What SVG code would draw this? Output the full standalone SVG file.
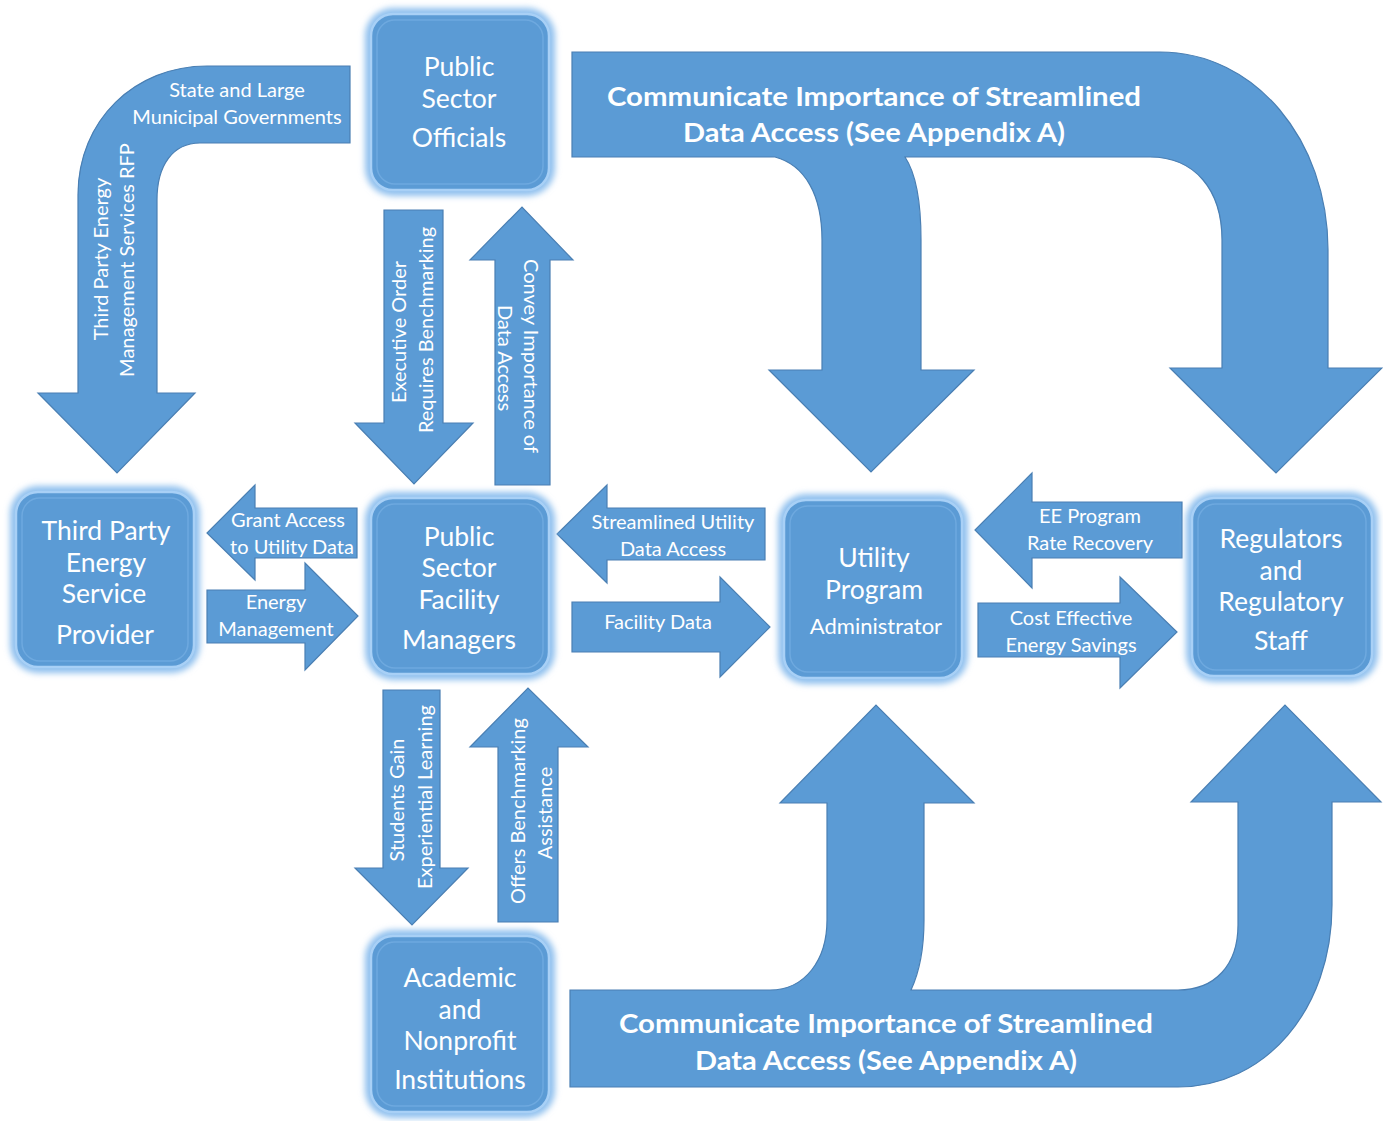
<svg xmlns="http://www.w3.org/2000/svg" width="1383" height="1121" viewBox="0 0 1383 1121">
<defs>
<style>
.arrow{fill:#5b9bd5;stroke:#4a7fb3;stroke-width:1.2;stroke-linejoin:miter}
.glow{fill:#8fc0ee}
.box{fill:#5b9bd5;stroke:#a8d0f6;stroke-width:2.5}
.rim{fill:none;stroke:#6ea9df;stroke-width:1.5}
.nt{font-family:Lato,"Liberation Sans",sans-serif;font-size:26.5px;fill:#ffffff;text-anchor:middle;dominant-baseline:central}
.lt{font-family:Lato,"Liberation Sans",sans-serif;font-size:20px;fill:#ffffff;text-anchor:middle;dominant-baseline:central}
.bt{font-family:Lato,"Liberation Sans",sans-serif;font-size:27px;font-weight:bold;fill:#ffffff;text-anchor:middle;dominant-baseline:central}
</style>
<filter id="blur" x="-10%" y="-10%" width="120%" height="120%"><feGaussianBlur stdDeviation="3"/></filter>
</defs>
<rect width="1383" height="1121" fill="#ffffff"/>
<g id="connectors">
<g id="c-top-left">
<path class="arrow" d="M350,66 L207,66 C135,66 78,120 78,195 L78,393 L38,393 L117,473 L195,393 L157,393 L157,200 C157,165 173,143 200,143 L350,143 Z"/>
<text class="lt" x="237" y="89">State and Large</text>
<text class="lt" x="237" y="116">Municipal Governments</text>
<text class="lt" transform="translate(100,259) rotate(-90)">Third Party Energy</text>
<text class="lt" transform="translate(126,260) rotate(-90)">Management Services RFP</text>
</g>
<g id="c-exec">
<path class="arrow" d="M384,210 L443,210 L443,423 L473,423 L414,484 L355,423 L384,423 Z"/>
<text class="lt" transform="translate(398,332) rotate(-90)">Executive Order</text>
<text class="lt" transform="translate(425,330) rotate(-90)">Requires Benchmarking</text>
</g>
<g id="c-convey">
<path class="arrow" d="M495,485 L550,485 L550,260 L573,260 L522,207 L470,260 L495,260 Z"/>
<text class="lt" transform="translate(532,356) rotate(90)">Convey Importance of</text>
<text class="lt" transform="translate(506,358) rotate(90)">Data Access</text>
</g>
<g id="c-grant">
<path class="arrow" d="M357,508 L357,558 L255,558 L255,580 L207,533 L255,485 L255,508 Z"/>
<text class="lt" x="288" y="519">Grant Access</text>
<text class="lt" x="292" y="546">to Utility Data</text>
</g>
<g id="c-energy">
<path class="arrow" d="M207,590 L305,590 L305,563 L358,616 L305,670 L305,643 L207,643 Z"/>
<text class="lt" x="276" y="601">Energy</text>
<text class="lt" x="276" y="628">Management</text>
</g>
<g id="c-streamlined">
<path class="arrow" d="M765,508 L765,560 L607,560 L607,583 L557,534 L607,485 L607,508 Z"/>
<text class="lt" x="673" y="521">Streamlined Utility</text>
<text class="lt" x="673" y="548">Data Access</text>
</g>
<g id="c-facility">
<path class="arrow" d="M572,602 L720,602 L720,577 L770,627 L720,677 L720,652 L572,652 Z"/>
<text class="lt" x="658" y="621">Facility Data</text>
</g>
<g id="c-ee">
<path class="arrow" d="M1182,502 L1182,558 L1032,558 L1032,588 L975,530 L1032,473 L1032,502 Z"/>
<text class="lt" x="1090" y="515">EE Program</text>
<text class="lt" x="1090" y="542">Rate Recovery</text>
</g>
<g id="c-cost">
<path class="arrow" d="M978,603 L1120,603 L1120,577 L1177,632 L1120,688 L1120,657 L978,657 Z"/>
<text class="lt" x="1071" y="617">Cost Effective</text>
<text class="lt" x="1071" y="644">Energy Savings</text>
</g>
<g id="c-students">
<path class="arrow" d="M383,690 L440,690 L440,868 L468,868 L412,925 L355,868 L383,868 Z"/>
<text class="lt" transform="translate(396,800) rotate(-90)">Students Gain</text>
<text class="lt" transform="translate(424,797) rotate(-90)">Experiential Learning</text>
</g>
<g id="c-offers">
<path class="arrow" d="M498,922 L558,922 L558,747 L588,747 L528,688 L470,747 L498,747 Z"/>
<text class="lt" transform="translate(517,811) rotate(-90)">Offers Benchmarking</text>
<text class="lt" transform="translate(544,813) rotate(-90)">Assistance</text>
</g>
<g id="c-top-big">
<path class="arrow" d="M572,52 L1160,52 C1255,52 1328,140 1328,250 L1328,368 L1382,368 L1276,473 L1170,368 L1222,368 L1222,240 C1222,190 1195,157 1150,157 L905,157 C915,172 921,200 921,240 L921,370 L974,370 L871,472 L769,370 L822,370 L822,240 C822,195 805,165 775,157 L572,157 Z"/>
<text class="bt" x="874" y="95" textLength="534" lengthAdjust="spacingAndGlyphs">Communicate Importance of Streamlined</text>
<text class="bt" x="874" y="131" textLength="382" lengthAdjust="spacingAndGlyphs">Data Access (See Appendix A)</text>
</g>
<g id="c-bottom-big">
<path class="arrow" d="M570,990 L770,990 C805,990 827,960 827,920 L827,803 L780,803 L876,705 L974,803 L924,803 L924,920 C924,950 918,975 911,990 L1178,990 C1215,990 1238,965 1238,925 L1238,802 L1191,802 L1285,705 L1381,802 L1332,802 L1332,905 C1332,1010 1265,1087 1178,1087 L570,1087 Z"/>
<text class="bt" x="886" y="1022" textLength="534" lengthAdjust="spacingAndGlyphs">Communicate Importance of Streamlined</text>
<text class="bt" x="886" y="1059" textLength="382" lengthAdjust="spacingAndGlyphs">Data Access (See Appendix A)</text>
</g>
</g>
<g id="node-officials">
<rect class="glow" filter="url(#blur)" x="365" y="8" width="190" height="188" rx="28"/>
<rect class="box" x="371" y="14" width="178" height="176" rx="22"/>
<rect class="rim" x="377" y="20" width="166" height="164" rx="18"/>
<text class="nt" x="459" y="66">Public</text>
<text class="nt" x="459" y="98">Sector</text>
<text class="nt" x="459" y="137">Officials</text>
</g>
<g id="node-thirdparty">
<rect class="glow" filter="url(#blur)" x="10" y="486" width="190" height="187" rx="28"/>
<rect class="box" x="16" y="492" width="178" height="175" rx="22"/>
<rect class="rim" x="22" y="498" width="166" height="163" rx="18"/>
<text class="nt" x="106" y="530">Third Party</text>
<text class="nt" x="106" y="562">Energy</text>
<text class="nt" x="104" y="593">Service</text>
<text class="nt" x="105" y="634">Provider</text>
</g>
<g id="node-facility">
<rect class="glow" filter="url(#blur)" x="365" y="492" width="190" height="188" rx="28"/>
<rect class="box" x="371" y="498" width="178" height="176" rx="22"/>
<rect class="rim" x="377" y="504" width="166" height="164" rx="18"/>
<text class="nt" x="459" y="536">Public</text>
<text class="nt" x="459" y="567">Sector</text>
<text class="nt" x="459" y="599">Facility</text>
<text class="nt" x="459" y="639">Managers</text>
</g>
<g id="node-utility">
<rect class="glow" filter="url(#blur)" x="778" y="494" width="190" height="190" rx="28"/>
<rect class="box" x="784" y="500" width="178" height="178" rx="22"/>
<rect class="rim" x="790" y="506" width="166" height="166" rx="18"/>
<text class="nt" x="874" y="557">Utility</text>
<text class="nt" x="874" y="589">Program</text>
<text class="nt" x="876" y="625" style="font-size:22px">Administrator</text>
</g>
<g id="node-regulators">
<rect class="glow" filter="url(#blur)" x="1186" y="492" width="192" height="190" rx="28"/>
<rect class="box" x="1192" y="498" width="180" height="178" rx="22"/>
<rect class="rim" x="1198" y="504" width="168" height="166" rx="18"/>
<text class="nt" x="1281" y="538">Regulators</text>
<text class="nt" x="1281" y="570">and</text>
<text class="nt" x="1281" y="601">Regulatory</text>
<text class="nt" x="1281" y="640">Staff</text>
</g>
<g id="node-academic">
<rect class="glow" filter="url(#blur)" x="365" y="930" width="190" height="188" rx="28"/>
<rect class="box" x="371" y="936" width="178" height="176" rx="22"/>
<rect class="rim" x="377" y="942" width="166" height="164" rx="18"/>
<text class="nt" x="460" y="977">Academic</text>
<text class="nt" x="460" y="1009">and</text>
<text class="nt" x="460" y="1040">Nonprofit</text>
<text class="nt" x="460" y="1079">Institutions</text>
</g>
</svg>
